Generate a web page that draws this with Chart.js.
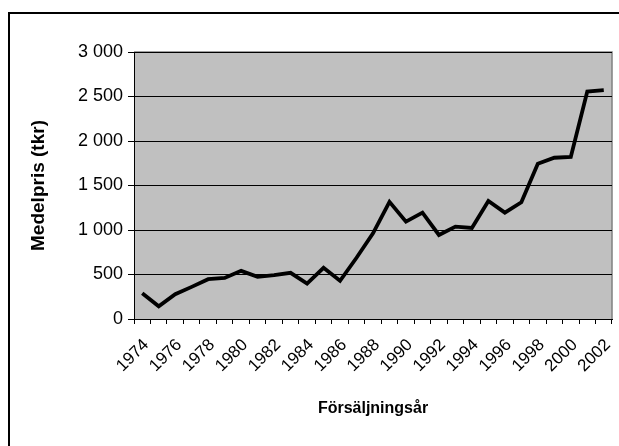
<!DOCTYPE html>
<html>
<head>
<meta charset="utf-8">
<script src="https://cdn.jsdelivr.net/npm/chart.js@4"></script>
<style>
  html, body { margin: 0; padding: 0; background: #fff; }
  #wrap { position: relative; width: 619px; height: 446px; }
</style>
</head>
<body>
<div id="wrap"><canvas id="myChart" width="619" height="446"></canvas></div>
<script>
// Försäljningsår (x) and medelpris in tkr (y)
const years = [1974, 1975, 1976, 1977, 1978, 1979, 1980, 1981, 1982, 1983,
               1984, 1985, 1986, 1987, 1988, 1989, 1990, 1991, 1992, 1993,
               1994, 1995, 1996, 1997, 1998, 1999, 2000, 2001, 2002];
const prices = [288, 143, 278, 361, 447, 462, 541, 474, 492, 519,
                398, 575, 429, 688, 962, 1316, 1094, 1195, 944, 1038,
                1023, 1327, 1195, 1312, 1744, 1812, 1820, 2556, 2571];
const yTicks = [0, 500, 1000, 1500, 2000, 2500, 3000];

// thousands with a space, Swedish style
function formatSv(v) {
    return v >= 1000 ? Math.floor(v / 1000) + ' ' + String(v % 1000).padStart(3, '0') : String(v);
}

// gray plot background + outer frame
const backdrop = {
    id: 'backdrop',
    beforeDraw(chart) {
        const { ctx, chartArea: a } = chart;
        ctx.save();
        ctx.fillStyle = '#c0c0c0';
        ctx.fillRect(a.left, a.top, a.right - a.left, a.bottom - a.top);
        ctx.strokeStyle = '#808080';
        ctx.lineWidth = 1.5;
        ctx.beginPath();
        ctx.moveTo(a.left, a.top);
        ctx.lineTo(a.right, a.top);
        ctx.lineTo(a.right, a.bottom);
        ctx.stroke();
        ctx.strokeStyle = '#000';
        ctx.lineWidth = 2;
        ctx.strokeRect(9, 13, 700, 500);
        ctx.restore();
    }
};

const ctx = document.getElementById('myChart').getContext('2d');
new Chart(ctx, {
    type: 'line',
    data: {
        labels: years.map(String),
        datasets: [{
            data: prices,
            borderColor: '#000',
            borderWidth: 3.8,
            pointRadius: 0,
            tension: 0,
            fill: false
        }]
    },
    options: {
        responsive: false,
        animation: false,
        layout: { padding: { top: 52, right: 7, left: 0, bottom: 0 } },
        plugins: { legend: { display: false }, tooltip: { enabled: false } },
        scales: {
            x: {
                type: 'category',
                offset: true,
                afterFit(scale) {
                    scale.height = 127;
                    scale.paddingLeft = 0;
                    scale.paddingRight = 0;
                },
                grid: {
                    offset: true,
                    drawOnChartArea: false,
                    drawTicks: true,
                    tickLength: 5,
                    tickColor: '#000',
                    lineWidth: 1
                },
                border: { display: true, color: '#000', width: 1 },
                ticks: {
                    autoSkip: false,
                    maxRotation: 45,
                    minRotation: 45,
                    padding: 11,
                    labelOffset: 4,
                    color: '#000',
                    font: { family: 'Liberation Sans', size: 17 },
                    callback(value, index) {
                        return index % 2 === 0 ? this.getLabelForValue(value) : '';
                    }
                },
                title: {
                    display: true,
                    text: 'Försäljningsår',
                    color: '#000',
                    font: { family: 'Liberation Sans', size: 16, weight: 'bold' },
                    padding: { top: 0, bottom: 28 }
                }
            },
            y: {
                min: 0,
                max: 3000,
                afterFit(scale) { scale.width = 134; },
                afterBuildTicks(scale) { scale.ticks = yTicks.map(v => ({ value: v })); },
                grid: {
                    color: '#000',
                    lineWidth: 1,
                    drawTicks: true,
                    tickLength: 6,
                    tickColor: '#000'
                },
                border: { display: true, color: '#000', width: 1 },
                ticks: {
                    padding: 5,
                    color: '#000',
                    font: { family: 'Liberation Sans', size: 18 },
                    callback: v => formatSv(v)
                },
                title: {
                    display: true,
                    text: 'Medelpris (tkr)',
                    color: '#000',
                    font: { family: 'Liberation Sans', size: 19, weight: 'bold' },
                    padding: { top: 27, bottom: 0 }
                }
            }
        }
    },
    plugins: [backdrop]
});
</script>
</body>
</html>
